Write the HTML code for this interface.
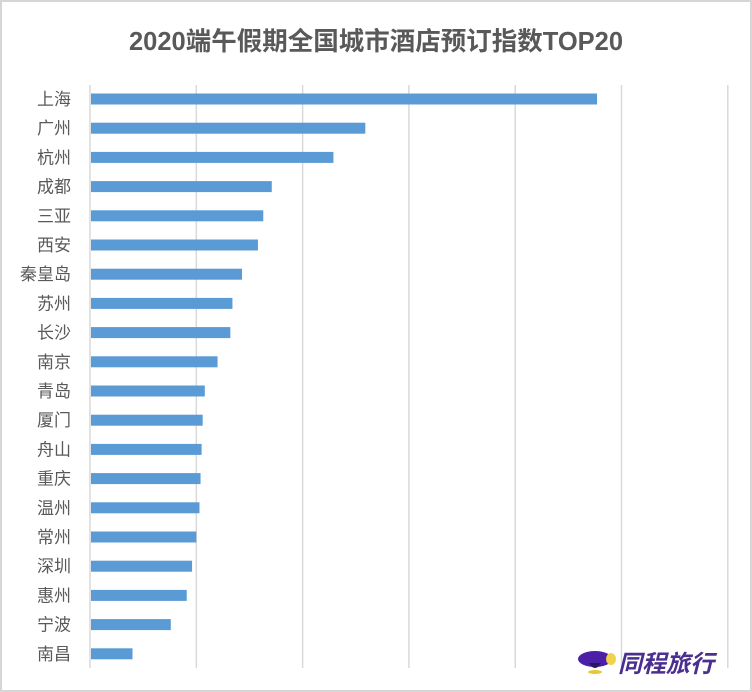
<!DOCTYPE html>
<html><head><meta charset="utf-8"><style>
html,body{margin:0;padding:0;background:#fff;}
body{width:752px;height:692px;overflow:hidden;position:relative;font-family:"Liberation Sans","Noto Sans CJK SC",sans-serif;}
#frame{position:absolute;left:0;top:0;width:748px;height:688px;border:2px solid #d6d6d6;}
#title{position:absolute;left:0;width:752px;top:21px;text-align:center;font-size:25.5px;font-weight:bold;color:#595959;}
.logo{position:absolute;left:618px;top:644px;font-size:24px;font-style:italic;font-weight:bold;color:#4a2f8f;}
</style></head><body>
<div id="frame"></div>
<div id="title">2020端午假期全国城市酒店预订指数TOP20</div>
<svg id="chart" width="752" height="692" style="position:absolute;left:0;top:0"></svg>
<svg width="44" height="30" style="position:absolute;left:575px;top:647px">
<ellipse cx="20" cy="12" rx="17" ry="8" fill="#4b1fa8"/><ellipse cx="36" cy="12" rx="5" ry="6" fill="#f1d24a"/><path d="M14 16 Q20 26 26 16" fill="#2a1660"/><ellipse cx="20" cy="25" rx="7" ry="2" fill="#e8c73a"/></svg>
<div class="logo">同程旅行</div>
<script>
const categories=["上海","广州","杭州","成都","三亚","西安","秦皇岛","苏州","长沙","南京","青岛","厦门","舟山","重庆","温州","常州","深圳","惠州","宁波","南昌"];
const values=[4.77,2.59,2.29,1.71,1.63,1.58,1.43,1.34,1.32,1.20,1.08,1.06,1.05,1.04,1.03,1.00,0.96,0.91,0.76,0.40];
const ticks=[0,1,2,3,4,5,6];
const NS="http://www.w3.org/2000/svg";
const svg=document.getElementById('chart');
const x0=90,unit=106.3,y0=99,step=29.2;
const xs=v=>x0+v*unit, ys=i=>y0+i*step;
ticks.forEach(t=>{
 const l=document.createElementNS(NS,'line');
 l.setAttribute('x1',xs(t));l.setAttribute('x2',xs(t));l.setAttribute('y1',85);l.setAttribute('y2',668);
 l.setAttribute('stroke','#d9d9d9');l.setAttribute('stroke-width','1.5');
 
 
 svg.appendChild(l);
});
categories.forEach((c,i)=>{
 const r=document.createElementNS(NS,'rect');
 r.setAttribute('x',x0+1);r.setAttribute('y',ys(i)-5.5);r.setAttribute('width',xs(values[i])-x0-1);r.setAttribute('height',11);
 r.setAttribute('fill','#5b9bd5');
 
 
 svg.appendChild(r);
 const t=document.createElementNS(NS,'text');
 t.setAttribute('x',71);t.setAttribute('y',ys(i)+6);t.setAttribute('text-anchor','end');
 t.setAttribute('font-size','17');t.setAttribute('fill','#595959');
 t.setAttribute('font-family','"Liberation Sans","Noto Sans CJK SC",sans-serif');
 t.textContent=c;
 
 
 svg.appendChild(t);
});
</script>
</body></html>
